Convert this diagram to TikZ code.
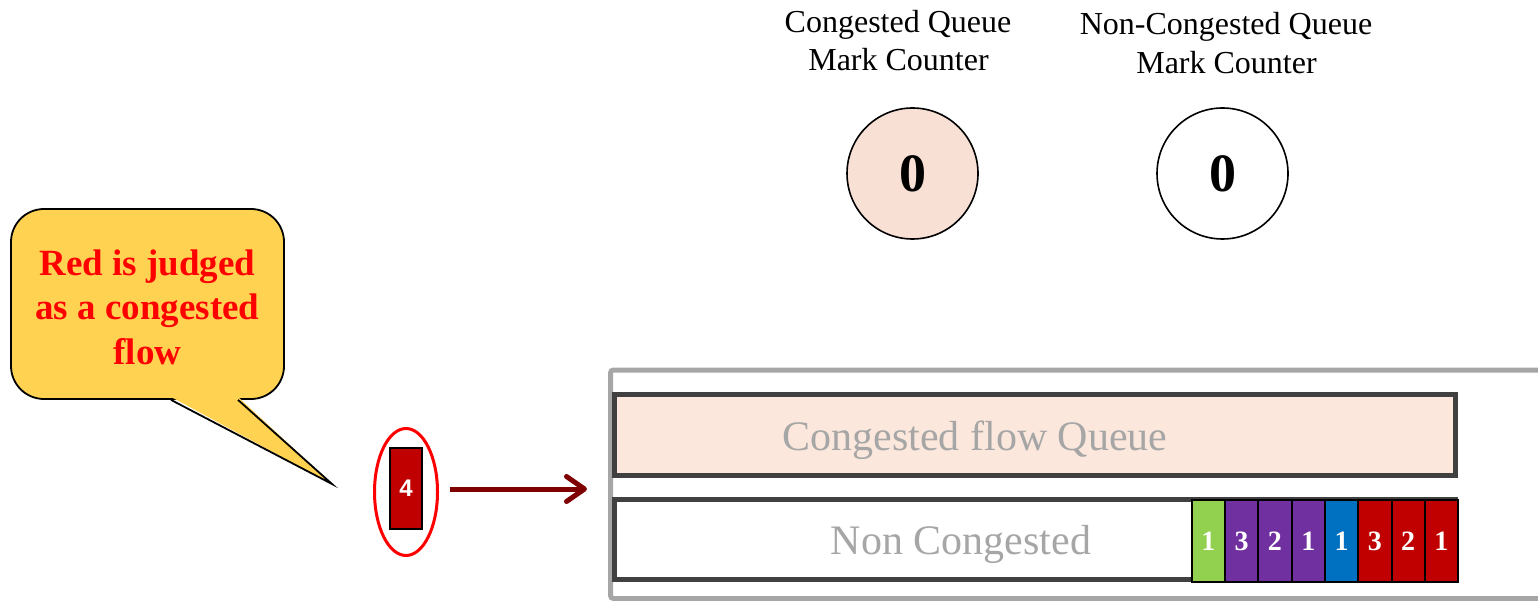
\documentclass[tikz,border=0pt]{standalone}
\usepackage{fontspec}
\setmainfont{Liberation Serif}
\newfontfamily\labelsans{Liberation Sans}
\usetikzlibrary{shapes.geometric,arrows.meta}
\definecolor{framegray}{HTML}{A6A6A6}
\definecolor{boxgray}{HTML}{404040}
\definecolor{peach}{HTML}{FBE7DC}
\definecolor{counterpeach}{HTML}{F9E0D4}
\definecolor{calloutgold}{HTML}{FFD351}
\definecolor{pktred}{HTML}{C00000}
\definecolor{pktpurple}{HTML}{7030A0}
\definecolor{pktblue}{HTML}{0070C0}
\definecolor{pktgreen}{HTML}{92D050}
\definecolor{arrowred}{HTML}{7F0000}

\begin{document}
\begin{tikzpicture}[x=1pt,y=-1pt,
  counter/.style={circle, draw=black, line width=1.6pt, minimum size=131pt,
    inner sep=0pt, font=\bfseries\fontsize{54}{54}\selectfont},
  caption/.style={anchor=base, inner sep=0pt, font=\fontsize{32}{38}\selectfont},
  queue/.style={rectangle, draw=boxgray, line width=5pt, minimum width=841pt, inner sep=0pt},
  queuelabel/.style={anchor=base, inner sep=0pt, text=framegray,
    font=\fontsize{42}{42}\selectfont},
  packet/.style={rectangle, draw=black, line width=2pt, minimum width=33.3pt,
    minimum height=82pt, inner sep=0pt, text=white,
    font=\bfseries\fontsize{28}{28}\selectfont},
  calloutbox/.style={rectangle, rounded corners=33pt, draw=black, line width=1.8pt,
    fill=calloutgold, minimum width=273pt, minimum height=190pt, inner sep=0pt},
  callouttext/.style={inner sep=0pt, align=center, text=red,
    font=\bfseries\fontsize{37}{44.5}\selectfont},
  flowarrow/.style={draw=arrowred, line width=5pt,
    -{Straight Barb[length=18pt,width=25pt,round]}}
]
\useasboundingbox (0,0) rectangle (1538,601);
\clip (0,0) rectangle (1538,601);

% switch frame
\draw[framegray, line width=5pt, rounded corners=3pt] (610.5,370) rectangle (1570,598.5);

% queues
\node[queue, fill=peach, minimum height=81pt] (cq) at (1035,435) {};
\node[queue, fill=white, minimum height=80pt] (nq) at (1035,539.5) {};
\node[queuelabel] (cqlabel) at (975,450) {Congested flow Queue};
\node[queuelabel] (nqlabel) at (961,554) {Non Congested};

% packets waiting in the non-congested queue
\foreach \i/\c/\n in {0/pktgreen/1, 1/pktpurple/3, 2/pktpurple/2, 3/pktpurple/1,
                      4/pktblue/1, 5/pktred/3, 6/pktred/2, 7/pktred/1}
  \node[packet, fill=\c] (p\i) at (1208.35+\i*33.3, 541) {\n};

% mark counters
\node[caption] (cctop) at (898,33) {Congested Queue};
\node[caption] (ccbot) at (898.5,71) {Mark Counter};
\node[caption] (nctop) at (1226,35) {Non-Congested Queue};
\node[caption] (ncbot) at (1226.5,74) {Mark Counter};
\node[counter, fill=counterpeach] (cc) at (912.5,173.5) {0};
\node[counter, fill=white] (nc) at (1222.5,173.5) {0};

% arriving packet
\node[packet, fill=pktred, minimum width=32pt, minimum height=81pt,
  font=\labelsans\bfseries\fontsize{24}{24}\selectfont] (newpkt) at (406,488.5) {4};
\node[ellipse, draw=red, line width=3pt, minimum width=63pt, minimum height=127pt,
  inner sep=0pt] (mark) at (406,492) {};
\coordinate (entry) at (587,489);
\draw[flowarrow] ([shift={(11,-3)}]mark.east) -- (entry);

% callout
\node[calloutbox] (callout) at (147.5,304) {};
\node[callouttext] (calloutmsg) at (147.5,307) {Red is judged\\as a congested\\flow};
\coordinate (tailtip) at (332,484);
\fill[calloutgold] ([shift={(23.5,-3)}]callout.south) -- (tailtip)
  -- ([shift={(90.5,-3)}]callout.south) -- cycle;
\draw[black, line width=1.8pt, line join=miter]
  ([xshift=23.5]callout.south) -- (tailtip) -- ([xshift=90.5]callout.south);
\end{tikzpicture}
\end{document}
